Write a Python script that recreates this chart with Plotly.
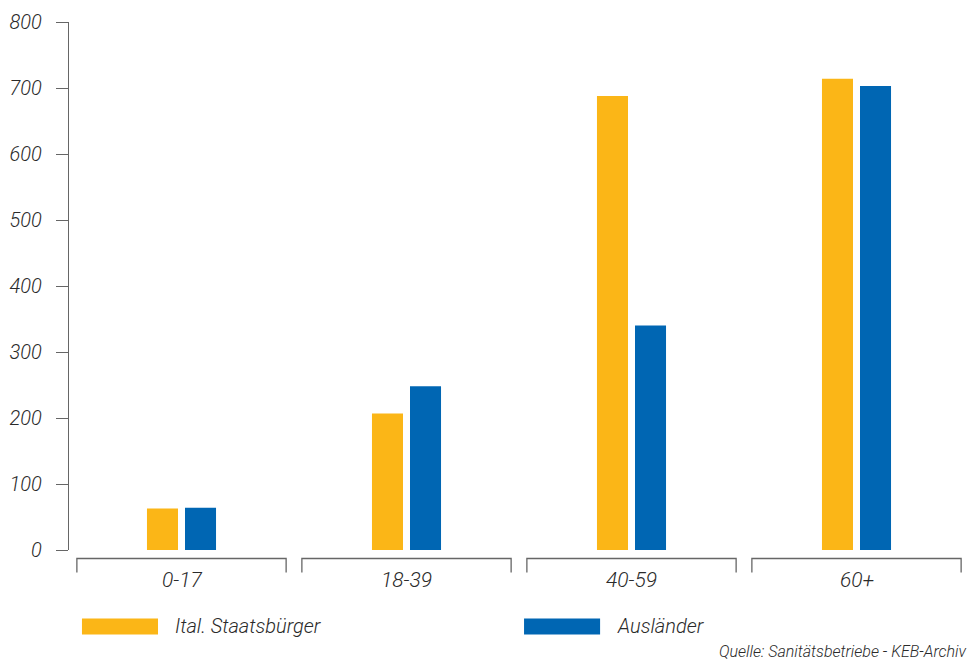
import plotly.graph_objects as go

# Age groups and counts per group
age_groups = ["0-17", "18-39", "40-59", "60+"]
italians = [63, 207, 688, 714]
foreigners = [64, 248, 340, 703]
series_names = ["Ital. Staatsbürger", "Ausländer"]
y_ticks = [0, 100, 200, 300, 400, 500, 600, 700, 800]
source_note = "Quelle: Sanitätsbetriebe - KEB-Archiv"

YELLOW = "#FBB617"
BLUE = "#0066B3"
AXIS = "#666666"
TEXT = "#2a2a2a"
FONT = "Roboto, Arial, sans-serif"

fig = go.Figure()
fig.add_trace(go.Bar(x=age_groups, y=italians, name=series_names[0],
                     marker=dict(color=YELLOW, line=dict(width=0))))
fig.add_trace(go.Bar(x=age_groups, y=foreigners, name=series_names[1],
                     marker=dict(color=BLUE, line=dict(width=0))))

shapes = []
annotations = []


def font(size):
    return dict(family=FONT, size=size, color=TEXT, style="italic", weight=300)


# Bracket under each age group with its label
for i, g in enumerate(age_groups):
    x0, x1 = i - 0.465, i + 0.465
    shapes.append(dict(type="path", xref="x", yref="paper",
                       path=f"M {x0},-0.0426 L {x0},-0.0161 L {x1},-0.0161 L {x1},-0.0426",
                       line=dict(color=AXIS, width=1.3)))
    annotations.append(dict(x=g, xref="x", y=-0.0565, yref="paper", text=g,
                            showarrow=False, xanchor="center", yanchor="middle",
                            font=font(21)))

# Custom legend with wide swatches
legend_items = [(series_names[0], YELLOW, 0.0144), (series_names[1], BLUE, 0.5056)]
for name, color, x0 in legend_items:
    shapes.append(dict(type="rect", xref="paper", yref="paper",
                       x0=x0, x1=x0 + 0.0845, y0=-0.1599, y1=-0.1296,
                       fillcolor=color, line=dict(width=0)))
    annotations.append(dict(x=x0 + 0.1012, xref="paper", y=-0.1447, yref="paper",
                            text=name, showarrow=False, xanchor="left", yanchor="middle",
                            font=font(20)))

annotations.append(dict(x=1.0, xref="paper", y=-0.192, yref="paper", text=source_note,
                        showarrow=False, xanchor="right", yanchor="middle",
                        font=font(16)))

fig.update_layout(
    width=971, height=661,
    margin=dict(l=69, r=2, t=22, b=111),
    paper_bgcolor="white", plot_bgcolor="white",
    barmode="group", bargap=0.662, bargroupgap=0.184,
    showlegend=False,
    shapes=shapes, annotations=annotations,
    xaxis=dict(showticklabels=False, showline=False, showgrid=False,
               zeroline=False, ticks="", range=[-0.5, 3.5]),
    yaxis=dict(range=[0, 800], tickvals=y_ticks, showgrid=False, zeroline=False,
               showline=True, linecolor=AXIS, linewidth=1.3,
               ticks="outside", ticklen=12, tickcolor=AXIS, tickwidth=1.3,
               ticklabelstandoff=10, tickfont=font(20)),
)

fig.write_html("out.html")
